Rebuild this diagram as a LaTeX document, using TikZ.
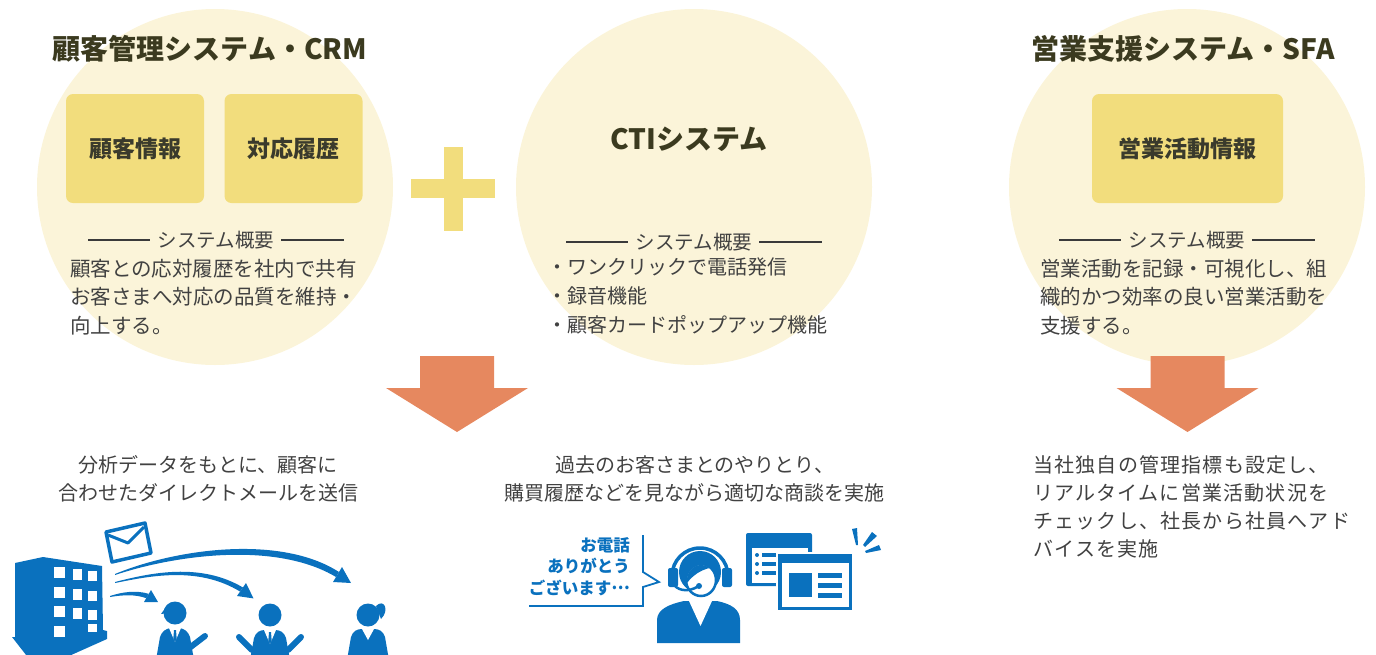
\documentclass[tikz,border=0pt]{standalone}
\usepackage{fontspec}
\setmainfont{Noto Sans CJK JP}
\definecolor{ringfill}{HTML}{FBF4D9}
\definecolor{boxfill}{HTML}{F2DD7D}
\definecolor{titletext}{HTML}{3B3A1F}
\definecolor{boxtext}{HTML}{3A3A2C}
\definecolor{bodytext}{HTML}{414141}
\definecolor{rulecol}{HTML}{3A3A3A}
\definecolor{arrowfill}{HTML}{E6885F}
\definecolor{iconblue}{HTML}{0A71BE}
\begin{document}
\begin{tikzpicture}[x=1pt,y=-1pt]
		\tikzstyle{ring}=[circle,fill=ringfill,minimum size=356pt,inner sep=0pt]
		\tikzstyle{title}=[font=\fontsize{28}{32}\selectfont\bfseries,text=titletext,inner sep=0pt]
		\tikzstyle{infobox}=[rounded corners=7pt,fill=boxfill,text=boxtext,font=\fontsize{23}{28}\selectfont\bfseries,inner sep=0pt,minimum height=109pt]
		\tikzstyle{sumhead}=[font=\fontsize{19.5}{24}\selectfont,text=bodytext,inner sep=0pt]
		\tikzstyle{sumrule}=[draw=rulecol,line width=1.6pt]
		\tikzstyle{body}=[font=\fontsize{20.5}{28.6}\selectfont,text=bodytext,inner sep=0pt,align=left,anchor=west]
		\tikzstyle{note}=[font=\fontsize{20}{28}\selectfont,text=bodytext,inner sep=0pt]
		\tikzstyle{icon}=[fill=iconblue]
		\tikzstyle{limb}=[draw=iconblue,line width=6pt,line cap=round]

		\useasboundingbox (0,0) rectangle (1376,654);

		\node[ring] (crmring) at (215,187) {};
		\node[ring] (ctiring) at (694,187) {};
		\node[ring] (sfaring) at (1187,187) {};

		\node[title] (crmtitle) at (210,49) {顧客管理システム・CRM};
		\node[title] (ctititle) at (689,139) {CTIシステム};
		\node[title] (sfatitle) at (1183,49) {営業支援システム・SFA};

		\node[infobox,minimum width=138pt] (custinfo) at (135,148.5) {顧客情報};
		\node[infobox,minimum width=138pt] (history) at (293.5,148.5) {対応履歴};
		\node[infobox,minimum width=191pt] (salesinfo) at (1187.5,148.5) {営業活動情報};

		\foreach \nm/\sx/\sy in {crmsum/216/240, ctisum/694/242, sfasum/1187/240} {
			\node[sumhead] (\nm) at (\sx,\sy) {システム概要};
			\draw[sumrule] ([xshift=-8pt]\nm.west) -- ++(-62,0);
			\draw[sumrule] ([xshift=7pt]\nm.east) -- ++(63,0);
		}

		\node[body] (crmtext) at (70,297) {顧客との応対履歴を社内で共有\\お客さまへ対応の品質を維持・\\向上する。};
		\node[body,font=\fontsize{20}{28.6}\selectfont] (ctitext) at (547,296) {・ワンクリックで電話発信\\・録音機能\\・顧客カードポップアップ機能};
		\node[body] (sfatext) at (1040,297) {営業活動を記録・可視化し、組\\織的かつ効率の良い営業活動を\\支援する。};

		% plus between CRM and CTI
		\fill[boxfill] (411,179) rectangle (495,198);
		\fill[boxfill] (444,147) rectangle (463,231);

		\foreach \ax in {457,1187.5} {
			\fill[arrowfill] (\ax-37,356) -- (\ax+37,356) -- (\ax+37,388) -- (\ax+71,388)
			-- (\ax,432) -- (\ax-71,388) -- (\ax-37,388) -- cycle;
		}

		\node[note,align=center] (dmtext) at (208,479) {分析データをもとに、顧客に\\合わせたダイレクトメールを送信};
		\node[note,align=center] (talktext) at (694.5,479) {過去のお客さまとのやりとり、\\購買履歴などを見ながら適切な商談を実施};
		\node[note,align=left,anchor=west,font={\fontsize{20}{27.8}\selectfont\addfontfeatures{LetterSpace=6}}] (advtext) at (1033,507)
			{当社独自の管理指標も設定し、\\リアルタイムに営業活動状況を\\チェックし、社長から社員へアド\\バイスを実施};

		\begin{scope}
			% building
			\fill[icon] (12,637) -- (15,637) -- (15,563) -- (43,557) -- (102,566) -- (103,630)
			-- (107,631) -- (107,639) -- (60,660) -- (30,660) -- cycle;
			\foreach \wy in {567,587,606} {
				\fill[white] (54,\wy) rectangle ++(11,11);
				\fill[white] (73,\wy+2) rectangle ++(9,11);
				\fill[white] (88,\wy+4) rectangle ++(9,10);
			}
			\fill[white] (54,626) rectangle ++(11,11);
			\fill[white] (88,624) rectangle ++(9,8);

			% envelope
			\filldraw[fill=white,draw=iconblue,line width=3.5pt,line join=round] (106,532) -- (145,523) -- (151,553) -- (112,562) -- cycle;
			\draw[iconblue,line width=3pt,line join=round] (108,535) -- (128,543) -- (144,527);

			% mail arrows
			\fill[icon] (115,574) .. controls (175,549) and (280,534) .. (339,572) -- (336,577)
			.. controls (276,541) and (175,555) .. (115,575) -- cycle;
			\fill[icon] (342,567) -- (351,583) -- (333,582) -- cycle;
			\fill[icon] (115,582) .. controls (150,573) and (200,562) .. (243,587.5) -- (240,591.5)
			.. controls (198,566) and (150,576) .. (115,583) -- cycle;
			\fill[icon] (246,583) -- (253.5,598.4) -- (237,596) -- cycle;
			\fill[icon] (110,596) .. controls (122,592) and (136,590) .. (148.7,593.8) -- (146.3,598.2)
			.. controls (135,594) and (122,595) .. (110,597) -- cycle;
			\fill[icon] (151,590) -- (158,602) -- (144,602) -- cycle;

			% customers
			\fill[icon] (175,613) circle[radius=11.5];
			\fill[icon] (166,607) -- (161,614) -- (168,613) -- cycle;
			\fill[icon] (156,660) -- (160,637) .. controls (162,631) and (166,629) .. (170,628) -- (180,628)
			.. controls (184,629) and (188,631) .. (190,637) -- (194,660) -- cycle;
			\fill[white] (169,628) -- (181,628) -- (175,642) -- cycle;
			\fill[icon] (174,630) -- (176,630) -- (176.7,639) -- (175,642) -- (173.3,639) -- cycle;
			\draw[limb] (188,649) -- (205,636);

			\fill[icon] (270,615) circle[radius=11.5];
			\fill[icon] (250,660) -- (254,638) .. controls (256,632) and (260,630) .. (265,630) -- (275,630)
			.. controls (280,630) and (284,632) .. (286,638) -- (290,660) -- cycle;
			\fill[white] (264,630) -- (276,630) -- (270,644) -- cycle;
			\fill[icon] (269,632) -- (271,632) -- (271.7,641) -- (270,644) -- (268.3,641) -- cycle;
			\draw[limb] (252,650) -- (239,637);
			\draw[limb] (288,650) -- (301,637);

			\fill[icon] (368,615) circle[radius=11.5];
			\fill[icon] (376,606) .. controls (384,598) and (390,610) .. (381,619) -- cycle;
			\fill[icon] (347,660) -- (351,637) .. controls (353,631) and (357,629) .. (362,629) -- (374,629)
			.. controls (379,629) and (383,631) .. (385,637) -- (389,660) -- cycle;
			\fill[white] (362,629) -- (374,629) -- (368,640) -- cycle;
		\end{scope}

		\begin{scope}
			% speech bubble
			\draw[iconblue,line width=1.8pt,line join=miter] (529,606) -- (643,606) -- (643,587) -- (659,582) -- (643,572) -- (643,535);
			\node[font=\fontsize{16.5}{21.5}\selectfont\bfseries,text=iconblue,align=right,anchor=east,inner sep=0pt] (greet) at (630,566.5)
				{お電話\\ありがとう\\ございます\raisebox{0.3em}{…}};

			% operator
			\begin{scope}
				\clip (660,535) rectangle (740,577);
				\draw[iconblue,line width=3.5pt] (700,576) circle[radius=28];
			\end{scope}
			\fill[icon,rounded corners=2pt] (668,568) rectangle (678,587);
			\fill[icon,rounded corners=2pt] (722,568) rectangle (732,587);
			\fill[icon] (700,572) circle[radius=21];
			\filldraw[fill=white,draw=iconblue,line width=2.5pt] (701,580) ellipse[x radius=15,y radius=16];
			\begin{scope}
				\clip (701,580) ellipse[x radius=14,y radius=15];
				\fill[icon] (684,588) .. controls (690,576) and (703,567) .. (718,567) -- (718,560) -- (684,560) -- cycle;
			\end{scope}
			\draw[iconblue,line width=2.5pt] (674,585) .. controls (680,592) and (690,591) .. (697,587);
			\fill[icon] (699,586) circle[radius=3];
			\fill[icon] (657,643) -- (657,620) .. controls (657,609) and (670,604) .. (684,601) -- (717,601)
			.. controls (731,604) and (740,609) .. (740,620) -- (740,643) -- cycle;
			\fill[white] (689,601) -- (712,601) -- (700.5,626) -- cycle;

			% customer card windows
			\fill[icon,rounded corners=2pt] (746,533) rectangle (812,586);
			\fill[white] (752,548) rectangle (808,583);
			\foreach \dy in {555,564,573} {
				\fill[icon] (757,\dy) circle[radius=2];
				\fill[icon] (762,\dy-2) rectangle (778,\dy+2);
			}
			\filldraw[fill=iconblue,draw=white,line width=2pt] (777,553) rectangle (853,611);
			\fill[white] (782,563) rectangle (849,607);
			\fill[icon] (789,573) rectangle (812,597);
			\foreach \by in {573,583,593} {
				\fill[icon] (818,\by) rectangle (842,\by+5);
			}
			\fill[icon] (852,529) -- (857,528) -- (858,545) -- (856,545) -- cycle;
			\fill[icon] (872,532) -- (877,536) -- (865,547) -- (863,545) -- cycle;
			\fill[icon] (879,545) -- (881,550) -- (866,553) -- (865,551) -- cycle;
		\end{scope}
	\end{tikzpicture}
\end{document}
